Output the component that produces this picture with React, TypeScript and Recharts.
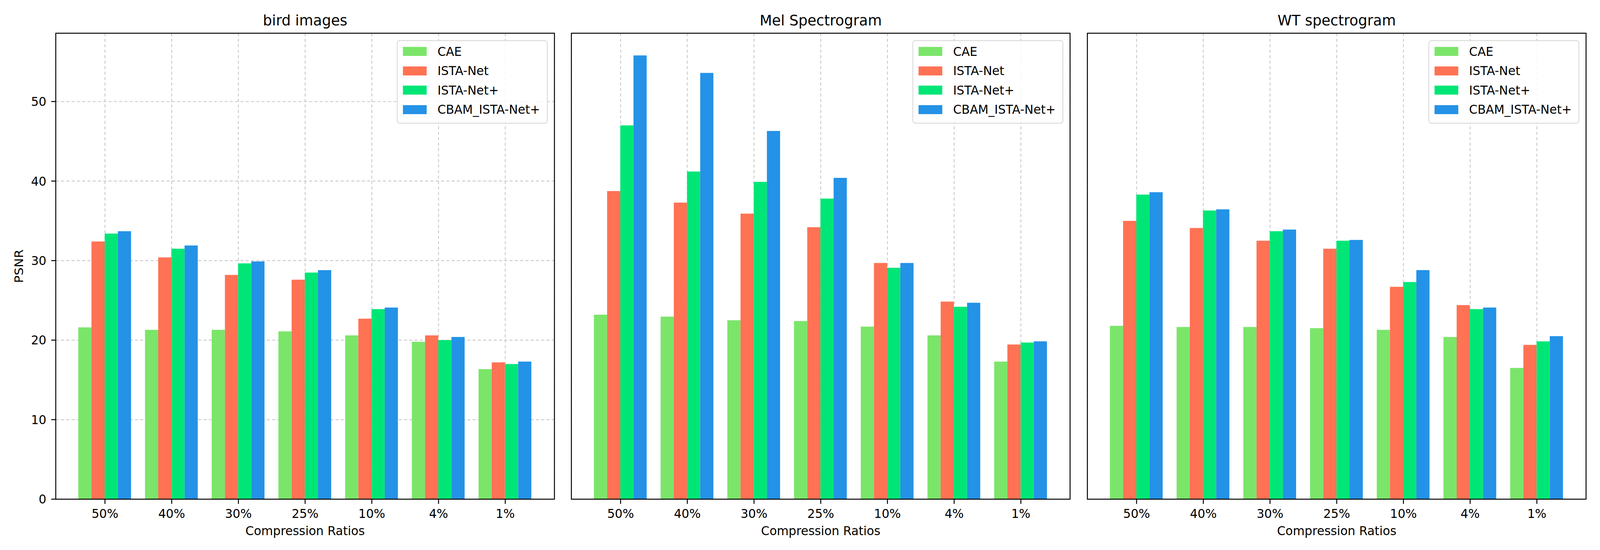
import { BarChart, Bar, XAxis, YAxis, CartesianGrid, Legend } from 'recharts';

const ratios = ['50%', '40%', '30%', '25%', '10%', '4%', '1%'];
const seriesNames = ['CAE', 'ISTA-Net', 'ISTA-Net+', 'CBAM_ISTA-Net+'];
const seriesColors = ['#7be56a', '#ff7254', '#00e676', '#2492e6'];
const yTicks = [0, 10, 20, 30, 40, 50];

// bird images
const birdCAE = [21.6, 21.3, 21.3, 21.1, 20.6, 19.8, 16.35];
const birdISTA = [32.4, 30.4, 28.2, 27.6, 22.7, 20.6, 17.2];
const birdISTAPlus = [33.4, 31.5, 29.65, 28.5, 23.9, 20.0, 17.0];
const birdCBAM = [33.7, 31.9, 29.9, 28.8, 24.1, 20.4, 17.3];

// Mel Spectrogram
const melCAE = [23.2, 22.95, 22.5, 22.4, 21.7, 20.6, 17.3];
const melISTA = [38.75, 37.3, 35.9, 34.2, 29.7, 24.85, 19.45];
const melISTAPlus = [47.0, 41.2, 39.9, 37.8, 29.1, 24.2, 19.7];
const melCBAM = [55.8, 53.6, 46.3, 40.4, 29.7, 24.7, 19.85];

// WT spectrogram
const wtCAE = [21.8, 21.65, 21.65, 21.5, 21.3, 20.4, 16.5];
const wtISTA = [35.0, 34.1, 32.5, 31.5, 26.7, 24.4, 19.4];
const wtISTAPlus = [38.3, 36.3, 33.7, 32.5, 27.3, 23.9, 19.85];
const wtCBAM = [38.6, 36.45, 33.9, 32.6, 28.8, 24.1, 20.5];

// shared y axis, matplotlib-style 5% headroom over the tallest bar
const yMax = 55.8 * 1.05;

const PLOT_TOP = 85;
const PLOT_BOTTOM = 1277;
const PLOT_W = 1323;
const PAGE_W = 4245;
const PAGE_H = 1407;
const FONT = '"DejaVu Sans", sans-serif';

function toRows(cols: number[][]) {
  return ratios.map((r, i) => {
    const row: Record<string, string | number> = { ratio: r };
    cols.forEach((c, j) => {
      row[`s${j}`] = c[i];
    });
    return row;
  });
}

const panels = [
  { title: 'bird images', axesLeft: 148, yLabels: true, rows: toRows([birdCAE, birdISTA, birdISTAPlus, birdCBAM]) },
  { title: 'Mel Spectrogram', axesLeft: 1516, yLabels: false, rows: toRows([melCAE, melISTA, melISTAPlus, melCBAM]) },
  { title: 'WT spectrogram', axesLeft: 2885, yLabels: false, rows: toRows([wtCAE, wtISTA, wtISTAPlus, wtCBAM]) },
];

function LegendBox({ payload }: any) {
  return (
    <div
      style={{
        background: 'rgba(255,255,255,0.85)',
        border: '2px solid #d6d6d6',
        borderRadius: 7,
        padding: '2px 18px 9px 14px',
        fontFamily: FONT,
        fontSize: 32,
        color: '#000',
      }}
    >
      {(payload || []).map((p: any) => (
        <div key={p.value} style={{ display: 'flex', alignItems: 'center', height: 49.5 }}>
          <span style={{ display: 'inline-block', width: 63, height: 23, background: p.color, marginRight: 29 }} />
          <span style={{ lineHeight: '32px' }}>{p.value}</span>
        </div>
      ))}
    </div>
  );
}

function Panel({ axesLeft, yLabels, rows }: { axesLeft: number; yLabels: boolean; rows: any[] }) {
  const yAxisW = yLabels ? axesLeft : 40;
  const chartLeft = axesLeft - yAxisW;
  const width = yAxisW + PLOT_W;
  return (
    <div style={{ position: 'absolute', left: chartLeft, top: 0 }}>
      <BarChart
        width={width}
        height={PAGE_H}
        data={rows}
        margin={{ top: PLOT_TOP, right: 0, bottom: 0, left: 0 }}
        barCategoryGap="10%"
        barGap={0}
      >
        <CartesianGrid stroke="#c8c8c8" strokeWidth={2.2} strokeDasharray="8 6" />
        <XAxis
          dataKey="ratio"
          type="category"
          interval={0}
          height={PAGE_H - PLOT_BOTTOM}
          padding={{ left: 42, right: 42 }}
          axisLine={false}
          tickLine={{ stroke: '#000', strokeWidth: 2.5 }}
          tickSize={12}
          tickMargin={13}
          tick={{ fontSize: 32, fill: '#000', fontFamily: FONT }}
          label={{ value: 'Compression Ratios', position: 'insideBottom', offset: 38, fontSize: 32, fill: '#000', fontFamily: FONT }}
        />
        <YAxis
          type="number"
          domain={[0, yMax]}
          ticks={yTicks}
          width={yAxisW}
          axisLine={false}
          tickLine={{ stroke: '#000', strokeWidth: 2.5 }}
          tickSize={12}
          tickMargin={13}
          tick={yLabels ? { fontSize: 32, fill: '#000', fontFamily: FONT } : false}
          label={
            yLabels
              ? { value: 'PSNR', angle: -90, position: 'insideLeft', offset: 50, fontSize: 32, fill: '#000', fontFamily: FONT, style: { textAnchor: 'middle' } }
              : undefined
          }
        />
        <Legend
          layout="vertical"
          align="center"
          verticalAlign="middle"
          itemSorter="dataKey"
          content={<LegendBox />}
          wrapperStyle={{ top: 103, right: 18, left: 'auto', bottom: 'auto', width: 'auto' }}
        />
        {seriesNames.map((n, i) => (
          <Bar key={n} dataKey={`s${i}`} name={n} fill={seriesColors[i]} isAnimationActive={false} />
        ))}
      </BarChart>
    </div>
  );
}

export default function App() {
  // stretch the fixed 4245x1407 layout onto whatever CSS viewport the page really has
  const sx = typeof window !== 'undefined' ? Math.min(1, window.innerWidth / PAGE_W) : 1;
  const sy = typeof window !== 'undefined' ? Math.min(1, window.innerHeight / PAGE_H) : 1;
  return (
    <div
      style={{
        position: 'absolute',
        left: 0,
        top: 0,
        width: PAGE_W * sx,
        height: PAGE_H * sy,
        overflow: 'hidden',
        background: '#fff',
      }}
    >
      <div
        style={{
          position: 'relative',
          width: PAGE_W,
          height: PAGE_H,
          transform: `scale(${sx}, ${sy})`,
          transformOrigin: '0 0',
          fontFamily: FONT,
        }}
      >
        {panels.map((p) => (
          <Panel key={p.title} axesLeft={p.axesLeft} yLabels={p.yLabels} rows={p.rows} />
        ))}
        <svg
          width={PAGE_W}
          height={PAGE_H}
          style={{ position: 'absolute', left: 0, top: 0, pointerEvents: 'none' }}
        >
          {panels.map((p) => (
            <g key={p.title}>
              <rect
                x={p.axesLeft}
                y={PLOT_TOP}
                width={PLOT_W}
                height={PLOT_BOTTOM - PLOT_TOP}
                fill="none"
                stroke="#000"
                strokeWidth={2.5}
              />
              <text
                x={p.axesLeft + PLOT_W / 2}
                y={65}
                textAnchor="middle"
                fontSize={38}
                fontFamily={FONT}
                fill="#000"
              >
                {p.title}
              </text>
            </g>
          ))}
        </svg>
      </div>
    </div>
  );
}
